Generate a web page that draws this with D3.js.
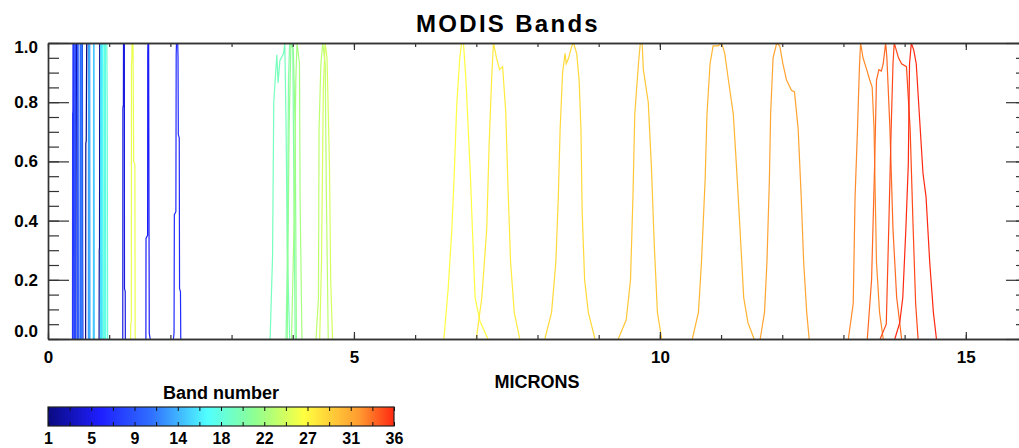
<!DOCTYPE html>
<html>
<head>
<meta charset="utf-8">
<script src="https://cdn.jsdelivr.net/npm/d3@7"></script>
<style>
  html, body { margin: 0; padding: 0; background: #fff; }
  svg { display: block; }
  text { font-family: "Liberation Sans", Arial, Helvetica, sans-serif; fill: #000; }
</style>
</head>
<body>
<div id="container"></div>
<script>
// band numbers 1..36
var bandNumbers = d3.range(1, 37);

// spectral response curves, [micron, relative response]
var bandCurves = [
  [[0.615,0],[0.618,0.66],[0.625,0.67],[0.628,0.81],[0.632,1],[0.66,1],[0.668,0.5],[0.675,0]],          // 1
  [[0.835,0],[0.838,0.3],[0.842,0.31],[0.845,1],[0.872,1],[0.878,0]],                                    // 2
  [[0.455,0],[0.458,0.95],[0.462,1],[0.476,1],[0.480,0.56],[0.484,0]],                                  // 3
  [[0.540,0],[0.545,0.96],[0.55,1],[0.562,1],[0.566,0.3],[0.57,0]],                                     // 4
  [[1.222,0],[1.224,0.78],[1.232,0.79],[1.234,1],[1.248,1],[1.25,0.17],[1.262,0.16],[1.264,0]],        // 5
  [[1.60,0],[1.602,0.34],[1.628,0.35],[1.63,0.97],[1.634,1],[1.645,1],[1.655,0.02],[1.67,0]],           // 6
  [[2.05,0],[2.06,0.02],[2.065,0.42],[2.09,0.43],[2.095,0.96],[2.10,1],[2.12,1],[2.125,0.95],[2.13,0.69],[2.145,0.68],[2.15,0.17],[2.165,0.16],[2.17,0]], // 7
  [[0.400,0],[0.402,0.76],[0.406,0.77],[0.408,1],[0.418,1],[0.422,0]],                                  // 8
  [[0.435,0],[0.437,1],[0.447,1],[0.450,0]],                                                             // 9
  [[0.480,0],[0.483,1],[0.493,1],[0.496,0]],                                                             // 10
  [[0.522,0],[0.526,1],[0.536,1],[0.540,0.3],[0.542,0]],                                                 // 11
  [[0.543,0],[0.546,0.3],[0.548,1],[0.556,1],[0.559,0]],                                                 // 12
  [[0.66,0],[0.662,1],[0.672,1],[0.675,0]],                                                              // 13
  [[0.671,0],[0.673,1],[0.683,1],[0.686,0]],                                                             // 14
  [[0.74,0],[0.743,0.2],[0.745,1],[0.753,1],[0.756,0]],                                                  // 15
  [[0.858,0],[0.862,1],[0.877,1],[0.88,0]],                                                              // 16
  [[0.885,0],[0.89,0.98],[0.895,1],[0.918,1],[0.922,0.8],[0.93,0]],                                      // 17
  [[0.928,0],[0.931,1],[0.941,1],[0.945,0]],                                                             // 18
  [[0.91,0],[0.915,0.9],[0.92,1],[0.962,1],[0.968,0.8],[0.975,0]],                                       // 19
  [[3.63,0],[3.67,0.28],[3.69,0.80],[3.73,0.93],[3.74,0.96],[3.76,0.865],[3.79,0.94],[3.85,0.965],[3.87,1],[3.89,0.73],[3.91,0.31],[3.95,0]], // 20
  [[3.89,0],[3.91,0.26],[3.93,0.875],[3.95,1],[4.00,1],[4.02,0.48],[4.04,0]],                            // 21
  [[3.91,0],[3.94,0.71],[3.97,1],[4.01,0.975],[4.04,0.71],[4.06,0]],                                     // 22
  [[3.98,0],[4.02,0.37],[4.05,0.875],[4.07,1],[4.11,0.93],[4.12,0.48],[4.15,0]],                         // 23
  [[4.38,0],[4.42,0.14],[4.43,0.71],[4.46,0.93],[4.49,1],[4.53,0.93],[4.55,0.48],[4.58,0]],             // 24
  [[4.44,0],[4.47,0.26],[4.50,0.85],[4.53,1],[4.56,0.95],[4.60,0.59],[4.62,0.20],[4.65,0]],             // 25
  [[1.35,0],[1.352,0.05],[1.362,0.06],[1.364,0.93],[1.37,0.94],[1.372,1],[1.39,1],[1.40,0.6],[1.42,0.59],[1.425,0]], // 26
  [[6.47,0],[6.54,0.17],[6.60,0.37],[6.64,0.56],[6.68,0.79],[6.73,0.95],[6.76,1],[6.79,1],[6.83,0.875],[6.90,0.57],[6.94,0.35],[6.98,0.14],[7.06,0.06],[7.19,0]], // 27
  [[7.00,0],[7.09,0.14],[7.17,0.37],[7.21,0.66],[7.25,0.875],[7.28,1],[7.33,0.95],[7.38,0.91],[7.43,0.92],[7.48,0.77],[7.52,0.50],[7.56,0.26],[7.62,0.09],[7.71,0]], // 28
  [[8.12,0],[8.23,0.09],[8.30,0.26],[8.34,0.48],[8.37,0.71],[8.41,0.90],[8.45,0.965],[8.47,0.93],[8.51,0.95],[8.56,0.99],[8.59,1],[8.64,0.965],[8.68,0.875],[8.71,0.71],[8.73,0.43],[8.77,0.20],[8.83,0.09],[8.94,0]], // 29
  [[9.32,0],[9.45,0.065],[9.52,0.20],[9.56,0.48],[9.59,0.76],[9.65,0.93],[9.68,1],[9.71,1],[9.73,0.91],[9.81,0.80],[9.86,0.59],[9.91,0.31],[9.96,0.09],[10.03,0]], // 30
  [[10.53,0],[10.63,0.09],[10.68,0.26],[10.74,0.54],[10.77,0.76],[10.82,0.93],[10.87,0.99],[10.95,0.99],[11.01,1],[11.06,0.965],[11.12,0.875],[11.20,0.76],[11.25,0.59],[11.31,0.37],[11.37,0.14],[11.44,0.055],[11.54,0]], // 31
  [[11.64,0],[11.71,0.09],[11.75,0.26],[11.79,0.54],[11.81,0.76],[11.85,0.95],[11.91,1],[11.96,0.99],[12.01,0.93],[12.07,0.875],[12.15,0.84],[12.20,0.835],[12.26,0.71],[12.31,0.48],[12.35,0.26],[12.40,0.09],[12.44,0]], // 32
  [[13.08,0],[13.16,0.12],[13.19,0.48],[13.23,0.71],[13.26,0.91],[13.28,1],[13.32,0.95],[13.38,0.91],[13.43,0.875],[13.47,0.85],[13.50,0.71],[13.54,0.26],[13.59,0.09],[13.65,0]], // 33
  [[13.39,0],[13.46,0.20],[13.51,0.59],[13.54,0.875],[13.58,0.91],[13.62,0.905],[13.65,0.93],[13.69,1],[13.71,0.95],[13.76,0.71],[13.81,0.37],[13.87,0.14],[13.92,0.055],[13.95,0]], // 34
  [[13.60,0],[13.70,0.05],[13.74,0.37],[13.78,0.71],[13.81,0.93],[13.83,1],[13.90,0.95],[13.95,0.93],[14.03,0.92],[14.09,0.71],[14.14,0.37],[14.18,0.12],[14.22,0]], // 35
  [[13.84,0],[13.92,0.055],[13.97,0.14],[14.02,0.37],[14.06,0.59],[14.08,0.93],[14.11,1],[14.15,0.975],[14.19,0.93],[14.24,0.76],[14.30,0.56],[14.35,0.48],[14.41,0.26],[14.47,0.09],[14.52,0]]  // 36
];

var xMajor = [0, 5, 10, 15],
    xMinor = d3.range(0, 17),
    yMajor = [0, 0.2, 0.4, 0.6, 0.8, 1.0],
    yMinor = d3.range(0, 21).map(function(i) { return i * 0.05; });

var cbTicks = d3.range(0, 17).map(function(k) { return 1 + 35 * k / 16; }),
    cbLabels = ['1', '5', '9', '14', '18', '22', '27', '31', '36'];

// colour table (rainbow)
var colorStops = [0, 0.15, 0.3, 0.46, 0.6, 0.74, 0.9, 1],
    colorValues = ['#0a0a80', '#1e1eff', '#3070ff', '#50ffff', '#90ff90', '#ffff40', '#ff9a30', '#ff2810'];

var width = 1019,
    height = 448;

var svg = d3.select('#container')
    .append('svg')
    .attr('width', width)
    .attr('height', height);

var x = d3.scaleLinear().domain([0, 16]).range([48, 1027]);
var y = d3.scaleLinear().domain([0, 1]).range([339, 43]);

var color = d3.scaleLinear().domain(colorStops).range(colorValues);
var bandT = d3.scaleLinear().domain([1, 36]).range([0, 1]);

svg.append('clipPath')
    .attr('id', 'plotclip')
    .append('rect')
    .attr('x', x(0))
    .attr('y', y(1))
    .attr('width', x(16) - x(0))
    .attr('height', y(0) - y(1) + 1);

var line = d3.line()
    .x(function(d) { return x(d[0]); })
    .y(function(d) { return y(d[1]); });

svg.append('g')
    .attr('clip-path', 'url(#plotclip)')
    .selectAll('path')
    .data(bandNumbers)
    .enter()
    .append('path')
    .attr('d', function(b) { return line(bandCurves[b - 1]); })
    .attr('fill', 'none')
    .attr('stroke', function(b) { return color(bandT(b)); })
    .attr('stroke-width', 1.2);

// axes
function styleAxis(g) {
    g.selectAll('.domain').attr('stroke', '#333').attr('stroke-width', 1.4);
    g.selectAll('.tick line').attr('stroke', '#333').attr('stroke-width', 1.2);
    g.selectAll('.tick text')
        .style('font-size', '17px')
        .style('font-weight', 'bold')
        .attr('fill', '#000');
}

svg.append('g')
    .attr('transform', 'translate(0,' + y(0) + ')')
    .call(d3.axisBottom(x).tickValues(xMinor).tickSize(-4).tickSizeOuter(0).tickFormat(''))
    .call(styleAxis);
svg.append('g')
    .attr('transform', 'translate(0,' + y(0) + ')')
    .call(d3.axisBottom(x).tickValues(xMajor).tickSize(-7).tickSizeOuter(0).tickPadding(12).tickFormat(d3.format('d')))
    .call(styleAxis);

svg.append('g')
    .attr('transform', 'translate(0,' + y(1) + ')')
    .call(d3.axisTop(x).tickValues(xMinor).tickSize(-4).tickSizeOuter(0).tickFormat(''))
    .call(styleAxis);
svg.append('g')
    .attr('transform', 'translate(0,' + y(1) + ')')
    .call(d3.axisTop(x).tickValues(xMajor).tickSize(-7).tickSizeOuter(0).tickFormat(''))
    .call(styleAxis);

svg.append('g')
    .attr('transform', 'translate(' + x(0) + ',0)')
    .call(d3.axisLeft(y).tickValues(yMinor).tickSize(-11).tickSizeOuter(0).tickFormat(''))
    .call(styleAxis);
var yAxis = svg.append('g')
    .attr('transform', 'translate(' + x(0) + ',0)')
    .call(d3.axisLeft(y).tickValues(yMajor).tickSize(-21).tickSizeOuter(0).tickPadding(10).tickFormat(d3.format('.1f')))
    .call(styleAxis);

// keep end labels inside the frame
yAxis.selectAll('.tick text')
    .attr('dy', function(d) { return d === 0 ? '-0.15em' : (d === 1 ? '0.55em' : '0.32em'); });

svg.append('g')
    .attr('transform', 'translate(' + x(16) + ',0)')
    .call(d3.axisRight(y).tickValues(yMinor).tickSize(-11).tickSizeOuter(0).tickFormat(''))
    .call(styleAxis);
svg.append('g')
    .attr('transform', 'translate(' + x(16) + ',0)')
    .call(d3.axisRight(y).tickValues(yMajor).tickSize(-21).tickSizeOuter(0).tickFormat(''))
    .call(styleAxis);

// titles
svg.append('text')
    .attr('x', 508)
    .attr('y', 32)
    .attr('text-anchor', 'middle')
    .style('font-size', '24px')
    .style('font-weight', 'bold')
    .style('letter-spacing', '2.3px')
    .text('MODIS Bands');

svg.append('text')
    .attr('x', 537)
    .attr('y', 388)
    .attr('text-anchor', 'middle')
    .style('font-size', '18px')
    .style('font-weight', 'bold')
    .text('MICRONS');

// colour bar
var cb = d3.scaleLinear().domain([1, 36]).range([48, 394]);

var grad = svg.append('defs')
    .append('linearGradient')
    .attr('id', 'cbgrad')
    .attr('x1', '0%').attr('x2', '100%')
    .attr('y1', '0%').attr('y2', '0%');
grad.selectAll('stop')
    .data(colorStops)
    .enter()
    .append('stop')
    .attr('offset', function(d) { return (d * 100) + '%'; })
    .attr('stop-color', function(d, i) { return colorValues[i]; });

svg.append('rect')
    .attr('x', cb(1))
    .attr('y', 407)
    .attr('width', cb(36) - cb(1))
    .attr('height', 19)
    .attr('fill', 'url(#cbgrad)')
    .attr('stroke', '#222')
    .attr('stroke-width', 1.2);

svg.append('g')
    .attr('transform', 'translate(0,407)')
    .call(d3.axisTop(cb).tickValues(cbTicks).tickSize(-4).tickSizeOuter(0).tickFormat(''))
    .call(function(g) { g.select('.domain').remove(); g.selectAll('line').attr('stroke', '#111'); });

svg.append('g')
    .attr('transform', 'translate(0,426)')
    .call(d3.axisBottom(cb).tickValues(cbTicks).tickSize(-4).tickSizeOuter(0).tickPadding(7)
        .tickFormat(function(d, i) { return i % 2 === 0 ? cbLabels[i / 2] : ''; }))
    .call(function(g) {
        g.select('.domain').remove();
        g.selectAll('line').attr('stroke', '#111');
        g.selectAll('text').style('font-size', '16px').style('font-weight', 'bold').attr('fill', '#000');
    });

svg.append('text')
    .attr('x', 221)
    .attr('y', 399)
    .attr('text-anchor', 'middle')
    .style('font-size', '18px')
    .style('font-weight', 'bold')
    .text('Band number');
</script>
</body>
</html>
